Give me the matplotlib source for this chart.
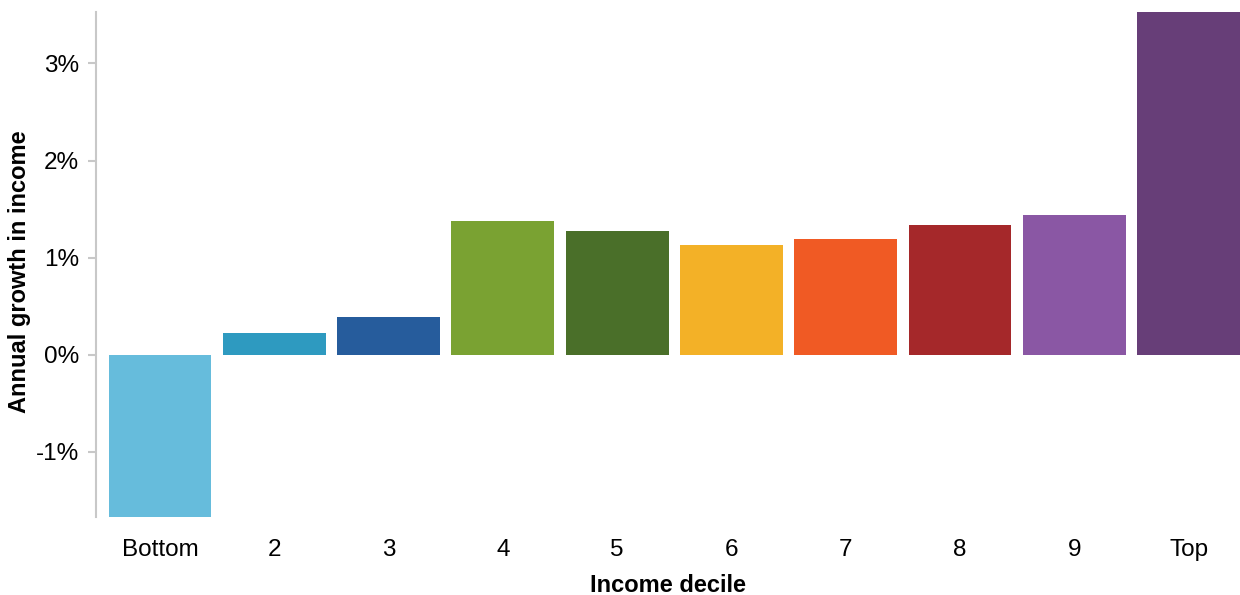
#!/usr/bin/env python3

# annual income growth by decile, bar chart

import matplotlib.pyplot as plt
from matplotlib.ticker import FuncFormatter

plt.rcParams['font.family'] = ['Liberation Sans', 'DejaVu Sans']

deciles = ['Bottom', '2', '3', '4', '5', '6', '7', '8', '9', 'Top']
growth = [-1.67, 0.22, 0.39, 1.38, 1.27, 1.13, 1.19, 1.34, 1.44, 3.53]
colors = ['#66bcdc', '#2e9ac0', '#265c9c', '#7aa232', '#4a6f29',
          '#f3b127', '#f05a24', '#a5282a', '#8a57a4', '#673e78']
yticks = [-1, 0, 1, 2, 3]

fig = plt.figure(figsize=(12.4, 5.95), dpi=100)
ax = fig.add_axes([96 / 1240, 1 - 517 / 595, 1 - 96 / 1240, (517 - 12) / 595])

x = range(len(deciles))
ax.bar(x, growth, width=0.9, color=colors)

ax.set_xlim(-0.56, len(deciles) - 0.55)
ax.set_ylim(min(growth), max(growth))
ax.set_xticks(list(x))
ax.set_xticklabels(deciles)
ax.set_yticks(yticks)
ax.yaxis.set_major_formatter(FuncFormatter(lambda v, p: f'{v:.0f}%'))

for s in ['top', 'right', 'bottom']:
    ax.spines[s].set_visible(False)
ax.spines['left'].set_color('#c8c8c8')
ax.spines['left'].set_linewidth(1.5)
ax.tick_params(axis='y', length=6, width=1.5, color='#c8c8c8', labelsize=17.5, pad=6)
ax.tick_params(axis='x', length=0, labelsize=17.5, pad=16)

ax.set_xlabel('Income decile', fontsize=17, fontweight='bold', labelpad=9)
ax.set_ylabel('Annual growth in income', fontsize=17, fontweight='bold')
ax.yaxis.set_label_coords(-0.057, 0.485)

fig.savefig('out.png', dpi=100)
